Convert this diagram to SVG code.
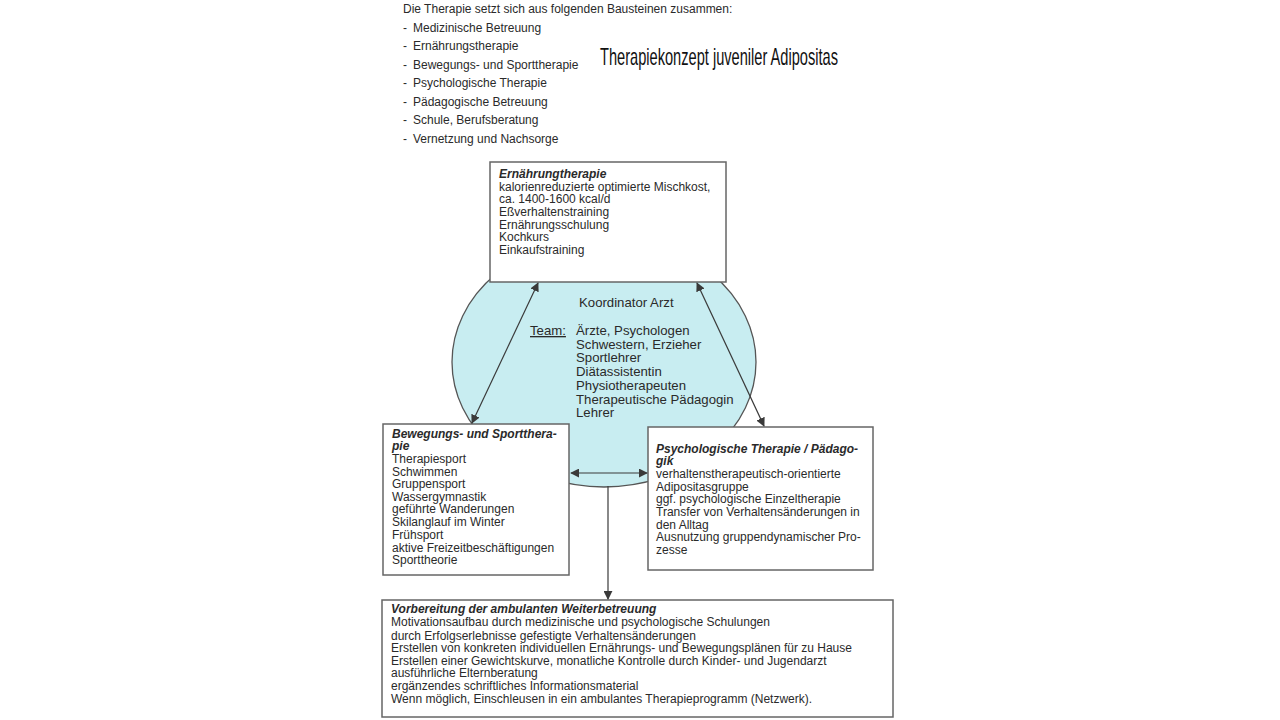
<svg xmlns="http://www.w3.org/2000/svg" width="1280" height="720" viewBox="0 0 1280 720">
<defs>
<style>
text{font-family:"Liberation Sans",Arial,sans-serif;fill:#2a2a2a;font-size:12px}
.h{font-weight:bold;font-style:italic}
.c{font-size:13.2px}
.box{fill:#fff;stroke:#666;stroke-width:1.5}
.con{stroke:#3a3a3a;stroke-width:1.2;fill:none}
</style>
<marker id="ah" viewBox="0 0 10 10" refX="9" refY="5" markerWidth="9" markerHeight="9" markerUnits="userSpaceOnUse" orient="auto-start-reverse">
<path d="M0,0 L10,5 L0,10 Z" fill="#3a3a3a"/>
</marker>
</defs>
<rect width="1280" height="720" fill="#fff"/>
<g id="intro">
<text x="403" y="13">Die Therapie setzt sich aus folgenden Bausteinen zusammen:</text>
<text x="403" y="32">-</text><text x="413" y="32">Medizinische Betreuung</text>
<text x="403" y="50">-</text><text x="413" y="50">Ernährungstherapie</text>
<text x="403" y="69">-</text><text x="413" y="69">Bewegungs- und Sporttherapie</text>
<text x="403" y="87">-</text><text x="413" y="87">Psychologische Therapie</text>
<text x="403" y="106">-</text><text x="413" y="106">Pädagogische Betreuung</text>
<text x="403" y="124">-</text><text x="413" y="124">Schule, Berufsberatung</text>
<text x="403" y="143">-</text><text x="413" y="143">Vernetzung und Nachsorge</text>
</g>
<g id="title">
<text x="600" y="65" style="font-size:24px;fill:#111" textLength="238" lengthAdjust="spacingAndGlyphs">Therapiekonzept juveniler Adipositas</text>
</g>
<g id="team">
<ellipse cx="604" cy="362" rx="152" ry="125" fill="#c8edf1" stroke="#555" stroke-width="1.3"/>
<text class="c" x="579" y="307">Koordinator Arzt</text>
<text class="c" x="530" y="335" text-decoration="underline">Team:</text>
<text class="c" x="576" y="335">Ärzte, Psychologen</text>
<text class="c" x="576" y="349">Schwestern, Erzieher</text>
<text class="c" x="576" y="362">Sportlehrer</text>
<text class="c" x="576" y="376">Diätassistentin</text>
<text class="c" x="576" y="390">Physiotherapeuten</text>
<text class="c" x="576" y="404">Therapeutische Pädagogin</text>
<text class="c" x="576" y="417">Lehrer</text>
</g>
<g id="ernaehrung">
<rect class="box" x="490" y="162" width="236" height="120"/>
<text class="h" x="499" y="178">Ernährungtherapie</text>
<text x="499" y="191">kalorienreduzierte optimierte Mischkost,</text>
<text x="499" y="203">ca. 1400-1600 kcal/d</text>
<text x="499" y="216">Eßverhaltenstraining</text>
<text x="499" y="229">Ernährungsschulung</text>
<text x="499" y="241">Kochkurs</text>
<text x="499" y="254">Einkaufstraining</text>
</g>
<g id="bewegung">
<rect class="box" x="383" y="424" width="186" height="151"/>
<text class="h" x="392" y="438">Bewegungs- und Sportthera-</text>
<text class="h" x="392" y="450">pie</text>
<text x="392" y="463">Therapiesport</text>
<text x="392" y="476">Schwimmen</text>
<text x="392" y="488">Gruppensport</text>
<text x="392" y="501">Wassergymnastik</text>
<text x="392" y="513">geführte Wanderungen</text>
<text x="392" y="526">Skilanglauf im Winter</text>
<text x="392" y="539">Frühsport</text>
<text x="392" y="552">aktive Freizeitbeschäftigungen</text>
<text x="392" y="564">Sporttheorie</text>
</g>
<g id="psychologie">
<rect class="box" x="648" y="427" width="225" height="143"/>
<text class="h" x="656" y="453">Psychologische Therapie / Pädago-</text>
<text class="h" x="656" y="465">gik</text>
<text x="656" y="478">verhaltenstherapeutisch-orientierte</text>
<text x="656" y="491">Adipositasgruppe</text>
<text x="656" y="503">ggf. psychologische Einzeltherapie</text>
<text x="656" y="516">Transfer von Verhaltensänderungen in</text>
<text x="656" y="529">den Alltag</text>
<text x="656" y="541">Ausnutzung gruppendynamischer Pro-</text>
<text x="656" y="554">zesse</text>
</g>
<g id="nachsorge">
<rect class="box" x="382" y="600" width="511" height="117"/>
<text class="h" x="391" y="613">Vorbereitung der ambulanten Weiterbetreuung</text>
<text x="391" y="626">Motivationsaufbau durch medizinische und psychologische Schulungen</text>
<text x="391" y="640">durch Erfolgserlebnisse gefestigte Verhaltensänderungen</text>
<text x="391" y="652">Erstellen von konkreten individuellen Ernährungs- und Bewegungsplänen für zu Hause</text>
<text x="391" y="665">Erstellen einer Gewichtskurve, monatliche Kontrolle durch Kinder- und Jugendarzt</text>
<text x="391" y="677">ausführliche Elternberatung</text>
<text x="391" y="690">ergänzendes schriftliches Informationsmaterial</text>
<text x="391" y="703">Wenn möglich, Einschleusen in ein ambulantes Therapieprogramm (Netzwerk).</text>
</g>
<g id="connectors">
<line class="con" x1="538" y1="283" x2="472" y2="423" marker-start="url(#ah)" marker-end="url(#ah)"/>
<line class="con" x1="697" y1="283" x2="764" y2="426" marker-start="url(#ah)" marker-end="url(#ah)"/>
<line class="con" x1="571" y1="473" x2="647" y2="473" marker-start="url(#ah)" marker-end="url(#ah)"/>
<line class="con" x1="608" y1="486" x2="608" y2="599" marker-end="url(#ah)"/>
</g>
</svg>
